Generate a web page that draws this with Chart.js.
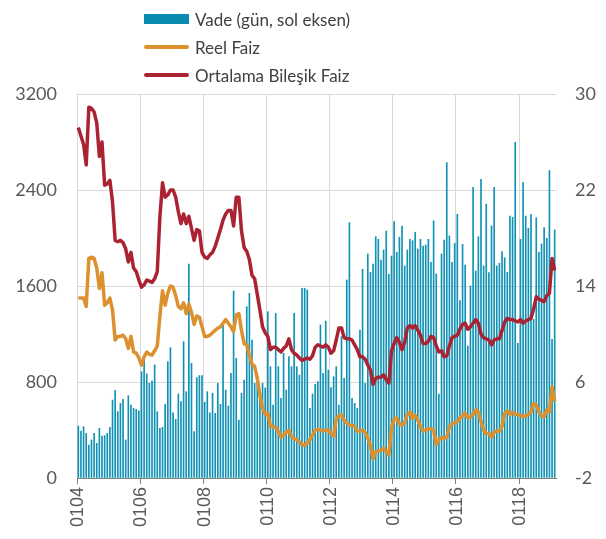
<!DOCTYPE html>
<html>
<head>
<meta charset="utf-8">
<script src="https://cdn.jsdelivr.net/npm/chart.js@4.4.0/dist/chart.umd.min.js"></script>
<style>
  html, body { margin: 0; padding: 0; background: #fff; }
  #wrap { position: relative; width: 606px; height: 539px; }
  #legend { position: absolute; left: 144px; top: 5px; font-family: Lato, "Open Sans", sans-serif; font-size: 17px; color: #404040; }
  .row { height: 28px; display: flex; align-items: center; }
  .sym { width: 45px; margin-right: 6px; }
  .box { height: 10px; background: #0a8cb0; }
  .ln { height: 4px; border-radius: 2px; }
</style>
</head>
<body>
<div id="wrap">
  <div id="legend">
    <div class="row"><div class="sym box"></div><span>Vade (gün, sol eksen)</span></div>
    <div class="row"><div class="sym ln" style="background:#dc902e"></div><span>Reel Faiz</span></div>
    <div class="row"><div class="sym ln" style="background:#ab2333"></div><span>Ortalama Bileşik Faiz</span></div>
  </div>
  <canvas id="chart" width="606" height="539"></canvas>
</div>
<script>
// monthly data, 01/2004 .. 02/2019
const startYear = 2004;
const monthCount = 182;
const tickEvery = 24; // a label every two years: 0104, 0106, ... 0118

// Vade (days, left axis)
const vade = [
  433, 392, 428, 372, 275, 317, 372, 289, 414, 350, 353, 372, 422, 650, 731, 553, 622, 656, 317, 686, 608, 581, 572, 560,
  886, 997, 867, 789, 808, 942, 553, 414, 422, 614, 969, 1086, 544, 489, 700, 636, 1136, 719, 1783, 956, 386, 836, 853, 853,
  631, 719, 544, 706, 539, 789, 614, 1272, 733, 600, 872, 1558, 997, 483, 706, 817, 1428, 1539, 1150, 789, 858, 664, 789, 750,
  1386, 928, 608, 1372, 928, 664, 1039, 733, 1011, 928, 1372, 928, 858, 1581, 1581, 1567, 581, 700, 781, 803, 1275, 872, 1308, 900,
  753, 844, 928, 608, 1178, 831, 1650, 2128, 664, 622, 581, 1233, 1739, 789, 1867, 1714, 1783, 2011, 1989, 1817, 1900, 2058, 1697, 1850,
  2136, 1881, 2006, 2100, 1767, 1900, 1989, 1978, 2047, 1908, 1989, 1933, 1942, 1989, 1797, 2144, 1700, 700, 1867, 1983, 2628, 2017, 1797, 1956,
  2197, 1478, 1947, 1775, 1100, 1600, 2422, 1725, 2011, 2489, 1767, 2283, 1711, 2100, 2422, 1767, 1789, 1886, 1836, 1714, 2183, 2172, 2797, 1122,
  1989, 2464, 2183, 2081, 2197, 1322, 2169, 1881, 1950, 2086, 1997, 2561, 1156, 2067
];

// Reel Faiz (%, right axis)
const reelFaiz = [
  13.0, 13.0, 13.0, 12.3, 16.3, 16.4, 16.3, 15.5, 13.8, 15.1,
  12.4, 12.6, 13.0, 12.0, 9.5, 9.8, 9.8, 9.9, 9.6, 8.8,
  9.8, 8.5, 8.4, 8.0, 7.4, 8.1, 8.5, 8.3, 8.25, 8.6,
  9.0, 11.5, 13.6, 12.4, 13.4, 14.0, 13.9, 13.2, 12.3, 12.1,
  12.6, 11.7, 12.5, 11.8, 10.8, 11.5, 11.4, 10.6, 9.8, 9.8,
  9.9, 10.1, 10.3, 10.5, 10.6, 10.9, 11.2, 10.9, 10.6, 10.2,
  11.6, 11.7, 10.3, 9.2, 9.1, 8.2, 7.5, 7.3, 6.3, 4.9,
  3.8, 3.3, 3.4, 2.3, 2.3, 2.2, 1.9, 1.4, 1.6, 1.8,
  2.0, 1.4, 1.3, 1.2, 1.0, 0.8, 0.7, 0.9, 1.2, 1.6,
  2.0, 2.05, 2.0, 1.9, 2.0, 2.0, 1.7, 1.5, 2.9, 3.2,
  3.25, 2.8, 2.6, 2.4, 2.4, 2.3, 1.9, 1.9, 2.0, 1.8,
  1.3, 0.7, -0.4, 0.2, 0.25, 0.3, 0.5, 0.2, -0.1, 2.2,
  2.9, 3.0, 2.5, 2.4, 2.6, 3.3, 3.5, 3.0, 3.25, 2.8,
  2.3, 1.9, 2.0, 2.1, 2.1, 2.0, 0.8, 1.2, 1.4, 1.3,
  1.4, 2.3, 2.5, 2.6, 2.7, 3.0, 3.2, 3.4, 3.0, 3.1,
  3.3, 3.7, 3.5, 2.7, 2.0, 1.7, 1.7, 1.4, 1.8, 1.9,
  1.9, 2.3, 3.4, 3.6, 3.3, 3.5, 3.3, 3.25, 3.25, 3.1,
  3.2, 3.3, 3.5, 4.2, 4.1, 3.5, 3.2, 3.1, 3.7, 3.5,
  5.6, 4.4
];

// Ortalama Bilesik Faiz (%, right axis)
const bilesikFaiz = [
  27.2, 26.5, 25.8, 24.1, 28.9, 28.8, 28.5, 27.6, 24.8, 26.0,
  22.4, 22.5, 22.8, 21.0, 17.8, 17.7, 17.8, 17.6, 17.1, 16.0,
  16.8, 15.5, 15.2, 14.5, 13.9, 14.1, 14.5, 14.4, 14.3, 14.6,
  15.2, 19.8, 22.6, 21.4, 21.6, 22.0, 22.0, 21.4, 20.2, 19.2,
  20.0, 19.2, 19.8, 18.8, 17.8, 18.7, 18.6, 16.8, 16.4, 16.3,
  16.6, 16.8, 17.3, 18.0, 18.7, 19.5, 20.0, 20.3, 20.3, 19.0,
  21.4, 21.4, 18.6, 17.2, 16.9, 16.2, 14.9, 14.6, 13.3, 12.0,
  10.6, 10.1, 9.8, 8.7, 8.9, 8.9, 8.7, 8.5, 8.8, 9.0,
  9.6, 8.7, 8.4, 8.25, 8.0, 7.8, 7.9, 8.0, 7.9, 8.2,
  8.9, 9.1, 9.0, 8.9, 9.1, 8.9, 8.4, 8.6, 9.5, 10.5,
  10.5, 9.7, 9.6, 9.6, 9.5, 9.1, 8.7, 8.1, 8.1, 7.9,
  7.4, 7.0, 5.8, 6.3, 6.4, 6.4, 6.6, 6.2, 5.9, 8.6,
  9.2, 9.7, 9.3, 8.7, 9.3, 10.5, 10.7, 10.5, 10.7, 10.3,
  9.9, 9.2, 9.2, 9.4, 9.8, 9.7, 9.0, 8.5, 8.6, 8.1,
  8.2, 9.0, 9.7, 9.8, 9.9, 10.4, 10.8, 10.9, 10.4, 10.6,
  10.9, 11.2, 10.9, 10.0, 9.7, 9.6, 9.5, 9.1, 9.5, 9.6,
  9.6, 10.3, 11.0, 11.3, 11.2, 11.2, 11.1, 11.0, 11.2, 10.9,
  11.1, 11.2, 11.3, 12.1, 13.1, 12.9, 12.8, 12.7, 13.2, 13.4,
  16.3, 15.3
];

// category labels "MMYY"
const months = [];
for (let i = 0; i < monthCount; i++) {
  const m = (i % 12) + 1;
  const y = (startYear + Math.floor(i / 12)) % 100;
  months.push(String(m).padStart(2, "0") + String(y).padStart(2, "0"));
}

const gridGray = "#d9d9d9";
const axisGray = "#808080";
const textGray = "#595959";

new Chart(document.getElementById("chart"), {
  type: "bar",
  data: {
    labels: months,
    datasets: [
      {
        type: "line",
        label: "Ortalama Bileşik Faiz",
        data: bilesikFaiz,
        yAxisID: "y1",
        borderColor: "#ab2333",
        borderWidth: 3.5,
        pointRadius: 0,
        tension: 0,
        borderJoinStyle: "round",
        order: 1,
      },
      {
        type: "line",
        label: "Reel Faiz",
        data: reelFaiz,
        yAxisID: "y1",
        borderColor: "#dc902e",
        borderWidth: 3.5,
        pointRadius: 0,
        tension: 0,
        borderJoinStyle: "round",
        order: 2,
      },
      {
        label: "Vade (gün, sol eksen)",
        data: vade,
        yAxisID: "y",
        backgroundColor: "#1192b5",
        barThickness: 1,
        order: 3,
      },
    ],
  },
  options: {
    responsive: false,
    animation: false,
    devicePixelRatio: 1,
    layout: { padding: { top: 94, left: 0, right: 0, bottom: 0 } },
    plugins: { legend: { display: false }, tooltip: { enabled: false } },
    scales: {
      x: {
        offset: true,
        grid: {
          offset: true,
          color: (c) => (c.index % tickEvery === 0 ? gridGray : "rgba(0,0,0,0)"),
          tickColor: (c) => (c.index % tickEvery === 0 ? axisGray : "rgba(0,0,0,0)"),
          tickLength: 6,
        },
        border: { color: axisGray },
        ticks: {
          autoSkip: false,
          minRotation: 90,
          maxRotation: 90,
          padding: 3,
          color: textGray,
          font: { family: '"Liberation Sans", Arial, sans-serif', size: 18 },
          callback: (v, i) => (i % tickEvery === 0 ? months[i] : ""),
        },
        afterFit: (s) => { s.height = 61; },
      },
      y: {
        position: "left",
        min: 0,
        max: 3200,
        grid: { color: gridGray, drawTicks: false },
        border: { display: false },
        ticks: {
          stepSize: 800,
          padding: 20,
          color: textGray,
          font: { family: "Lato, sans-serif", size: 18 },
          callback: (v) => String(v),
        },
        afterFit: (s) => { s.width = 77; },
      },
      y1: {
        position: "right",
        min: -2,
        max: 30,
        grid: { drawOnChartArea: false, drawTicks: false },
        border: { display: false },
        ticks: {
          stepSize: 8,
          padding: 19,
          color: textGray,
          font: { family: "Lato, sans-serif", size: 18 },
          callback: (v) => String(v),
        },
        afterFit: (s) => { s.width = 50; },
      },
    },
  },
});
</script>
</body>
</html>
